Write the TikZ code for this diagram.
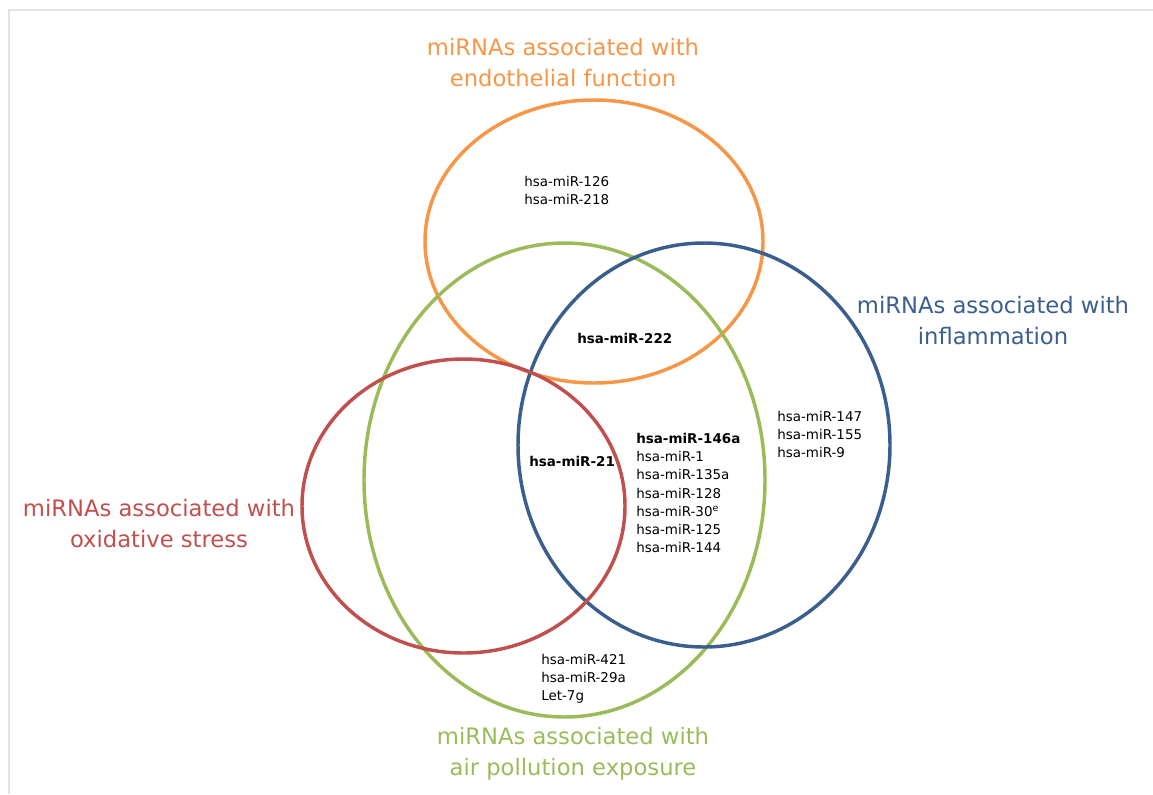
\documentclass[tikz,border=0pt]{standalone}
\usepackage{fontspec}
\setmainfont{DejaVu Sans}
\definecolor{vorange}{HTML}{F79646}
\definecolor{vgreen}{HTML}{9BBB59}
\definecolor{vblue}{HTML}{3A5F8F}
\definecolor{vred}{HTML}{C0504D}
\definecolor{frame}{HTML}{E2E2E2}
\begin{document}
\begin{tikzpicture}[x=0.75pt,y=-0.75pt,
  setring/.style={line width=2.6pt},
  title/.style={font=\fontsize{17}{23.2}\selectfont, align=center, anchor=base, inner sep=0pt},
  mirs/.style={font=\fontsize{10.1}{13.7}\selectfont, align=left, anchor=base west, inner sep=0pt, text=black}]
\useasboundingbox (0,0) rectangle (1153,794);
\draw[frame, line width=1.5pt] (8.5,794) -- (8.5,9.5) -- (1153,9.5);
% sets
\draw[setring, vorange] (594,241.5) ellipse [x radius=169, y radius=141.5];
\draw[setring, vgreen] (564.5,480) ellipse [x radius=200.5, y radius=237];
\draw[setring, vblue] (704,445) ellipse [x radius=186, y radius=202];
\draw[setring, vred] (463.5,506) ellipse [x radius=161.5, y radius=147];
% titles (base anchor = baseline of last line)
\node[title, text=vorange] (tEndo) at (563,86) {miRNAs associated with\\endothelial function};
\node[title, text=vblue] (tInfl) at (993,344) {miRNAs associated with\\inflammation};
\node[title, text=vred] (tOxid) at (159,547) {miRNAs associated with\\oxidative stress};
\node[title, text=vgreen] (tAir) at (573,775) {miRNAs associated with\\air pollution exposure};
% miRNA lists (base anchor = baseline of last line)
\node[mirs] (mEndo) at (524,204.3) {hsa-miR-126\\hsa-miR-218};
\node[mirs, font=\fontsize{10.1}{13.7}\selectfont\bfseries] (m222) at (577,343) {hsa-miR-222};
\node[mirs, font=\fontsize{10.1}{13.7}\selectfont\bfseries] (m21) at (529,466) {hsa-miR-21};
\node[mirs] (mCore) at (636,552.8) {\textbf{hsa-miR-146a}\\hsa-miR-1\\hsa-miR-135a\\hsa-miR-128\\hsa-miR-30\textsuperscript{e}\\hsa-miR-125\\hsa-miR-144};
\node[mirs] (mInfl) at (777,457.6) {hsa-miR-147\\hsa-miR-155\\hsa-miR-9};
\node[mirs] (mAir) at (541,700.6) {hsa-miR-421\\hsa-miR-29a\\Let-7g};
\end{tikzpicture}
\end{document}
